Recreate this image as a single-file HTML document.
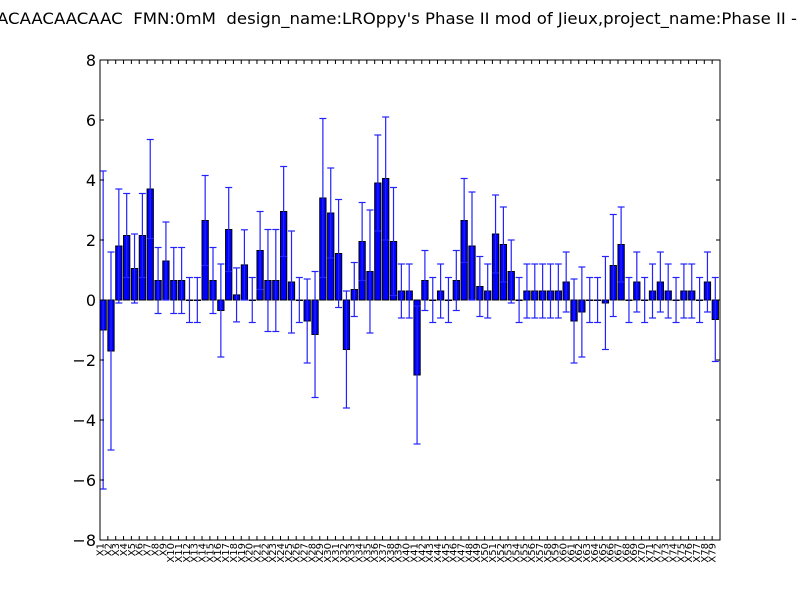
<!DOCTYPE html>
<html><head><meta charset="utf-8"><style>
html,body{margin:0;padding:0;background:#fff;}
svg{display:block;font-family:"DejaVu Sans","Liberation Sans",sans-serif;}
</style></head><body>
<svg id="chart" width="800" height="600" viewBox="0 0 800 600">
<rect width="800" height="600" fill="#fff"/>
<text x="-3" y="24" font-size="16" style="white-space:pre" textLength="800" lengthAdjust="spacingAndGlyphs">ACAACAACAAC  FMN:0mM  design_name:LROppy's Phase II mod of Jieux,project_name:Phase II -</text>
<g id="marks"></g>
<g id="axes"></g>
</svg>
<script>
const values = [-1.0,-1.7,1.8,2.15,1.05,2.15,3.7,0.65,1.3,0.65,0.65,0,0,2.65,0.65,-0.35,2.35,0.17,1.17,0,1.65,0.65,0.65,2.95,0.6,0,-0.7,-1.15,3.4,2.9,1.55,-1.65,0.35,1.95,0.95,3.9,4.05,1.95,0.3,0.3,-2.5,0.65,0,0.3,0,0.65,2.65,1.8,0.45,0.3,2.2,1.85,0.95,0,0.3,0.3,0.3,0.3,0.3,0.6,-0.7,-0.4,0,0,-0.1,1.15,1.85,0,0.6,0,0.3,0.6,0.3,0,0.3,0.3,0,0.6,-0.65];
const errors = [5.3,3.3,1.9,1.4,1.15,1.4,1.65,1.1,1.3,1.1,1.1,0.75,0.75,1.5,1.1,1.55,1.4,0.9,1.17,0.75,1.3,1.7,1.7,1.5,1.7,0.75,1.4,2.1,2.65,1.5,1.8,1.95,0.9,1.3,2.05,1.6,2.05,1.8,0.9,0.9,2.3,1.0,0.75,0.9,0.75,1.0,1.4,1.8,1.0,0.9,1.3,1.25,1.05,0.75,0.9,0.9,0.9,0.9,0.9,1.0,1.4,1.5,0.75,0.75,1.55,1.7,1.25,0.75,1.0,0.75,0.9,1.0,0.9,0.75,0.9,0.9,0.75,1.0,1.4];
const categories = values.map((v,i)=>'X'+(i+1));
const yTicks = [-8,-6,-4,-2,0,2,4,6,8];

const NS='http://www.w3.org/2000/svg';
const L=100,R=720,T=60,B=540;
const xS=i=>L+i*(R-L)/categories.length;
const bw=0.8*(R-L)/categories.length;
const yS=v=>T+(8-v)*(B-T)/16;
function mk(tag,attrs,parent){const e=document.createElementNS(NS,tag);for(const k in attrs)e.setAttribute(k,attrs[k]);parent.appendChild(e);return e;}
const marks=document.getElementById('marks'), axes=document.getElementById('axes');
values.forEach((v,i)=>{
  const y0=yS(0), y1=yS(v);
  const r=mk('rect',{x:xS(i),y:Math.min(y0,y1),width:bw,height:Math.max(Math.abs(y1-y0),0.5),fill:'#0000ff',stroke:'#000','stroke-width':1},marks);
  
  
});
values.forEach((v,i)=>{
  const cx=xS(i)+bw/2, yt=yS(v+errors[i]), yb=yS(v-errors[i]);
  const g=mk('g',{stroke:'#2222ff','stroke-width':1.2},marks);
  
  
  mk('line',{x1:cx,x2:cx,y1:yt,y2:yb},g);
  mk('line',{x1:cx-3.5,x2:cx+3.5,y1:yt,y2:yt},g);
  mk('line',{x1:cx-3.5,x2:cx+3.5,y1:yb,y2:yb},g);
});
const frame=mk('rect',{x:L,y:T,width:R-L,height:B-T,fill:'none',stroke:'#000','stroke-width':1},axes);


yTicks.forEach(t=>{
  const y=yS(t);
  mk('line',{x1:L,x2:L+4,y1:y,y2:y,stroke:'#000'},axes);
  mk('line',{x1:R-4,x2:R,y1:y,y2:y,stroke:'#000'},axes);
  const tx=mk('text',{x:L-4,y:y+6,'font-size':16,'text-anchor':'end'},axes);
  tx.textContent=(t<0?'\u2212':'')+Math.abs(t);
  
  
});
categories.forEach((c,i)=>{
  const x=xS(i);
  mk('line',{x1:x,x2:x,y1:B,y2:B-4,stroke:'#000'},axes);
  mk('line',{x1:x,x2:x,y1:T,y2:T+4,stroke:'#000'},axes);
  const tx=mk('text',{x:0,y:0,'font-size':10,'text-anchor':'end',transform:`translate(${x+3.5},${B+3}) rotate(-90)`},axes);
  tx.textContent=c;
  
  
});
</script>
</body></html>
